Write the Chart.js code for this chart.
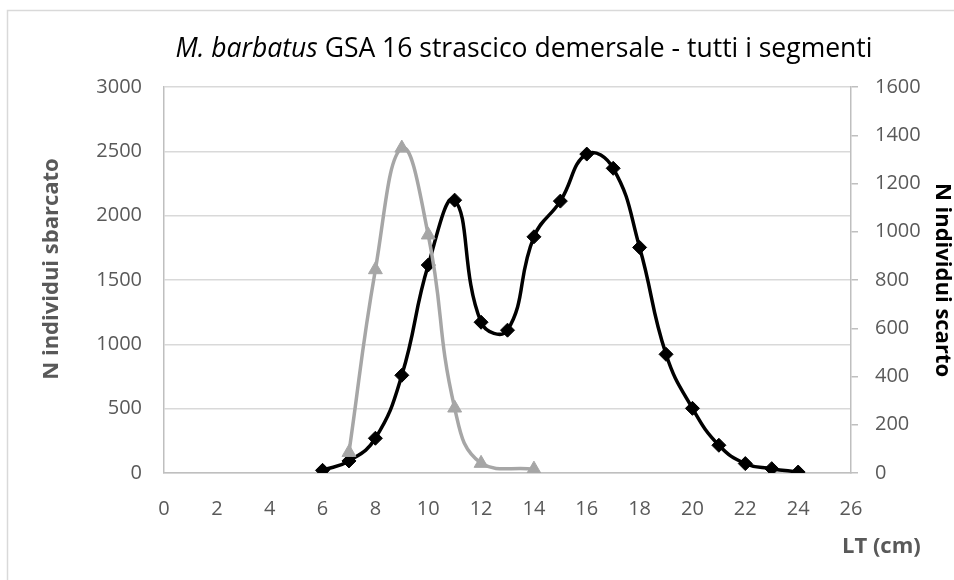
<!DOCTYPE html>
<html>
<head>
<meta charset="utf-8">
<script src="https://cdn.jsdelivr.net/npm/chart.js@4.4.0/dist/chart.umd.min.js"></script>
<style>
  html, body { margin: 0; padding: 0; background: #fff; }
  canvas { display: block; }
</style>
</head>
<body>
<canvas id="lengthChart" width="954" height="580"></canvas>
<script>
// length classes (cm) and number of individuals
const ltSbarcato = [7, 8, 9, 10, 11, 12, 14];
const nSbarcato = [160, 1580, 2525, 1850, 505, 75, 30];

const ltScarto = [6, 7, 8, 9, 10, 11, 12, 13, 14, 15, 16, 17, 18, 19, 20, 21, 22, 23, 24];
const nScarto = [11, 50, 144, 405, 862, 1131, 625, 592, 979, 1127, 1322, 1263, 935, 492, 268, 115, 39, 18, 4];

const titleItalic = 'M. barbatus';
const titleRest = ' GSA 16 strascico demersale - tutti i segmenti';
const leftTitle = 'N individui sbarcato';
const rightTitle = 'N individui scarto';
const xTitle = 'LT (cm)';

const FONT = "'Open Sans', 'DejaVu Sans', sans-serif";
const tickGray = '#595959';

function toPoints(xs, ys) {
    return xs.map((x, i) => ({ x: x, y: ys[i] }));
}

function plain(v) { return String(v); } // no thousand separators

// white page + light frame, like the excel chart area
const frame = {
    id: 'frame',
    beforeDraw(chart) {
        const ctx = chart.ctx;
        ctx.save();
        ctx.fillStyle = '#fff';
        ctx.fillRect(0, 0, chart.width, chart.height);
        ctx.strokeStyle = '#d9d9d9';
        ctx.lineWidth = 1.5;
        ctx.strokeRect(7.5, 10.5, 1000, 700);
        ctx.restore();
    }
};

// title (part italic) and axis titles
const labels = {
    id: 'labels',
    afterDraw(chart) {
        const ctx = chart.ctx;
        ctx.save();
        ctx.textBaseline = 'alphabetic';

        // chart title
        ctx.fillStyle = '#000';
        ctx.font = 'italic 26.5px ' + FONT;
        const w1 = ctx.measureText(titleItalic).width;
        ctx.font = '26.5px ' + FONT;
        const w2 = ctx.measureText(titleRest).width;
        let x = 524 - (w1 + w2) / 2;
        ctx.textAlign = 'left';
        ctx.font = 'italic 26.5px ' + FONT;
        ctx.fillText(titleItalic, x, 57);
        ctx.font = '26.5px ' + FONT;
        ctx.fillText(titleRest, x + w1, 57);

        // left axis title
        ctx.textAlign = 'center';
        ctx.textBaseline = 'middle';
        ctx.font = 'bold 22px ' + FONT;
        ctx.fillStyle = tickGray;
        ctx.save();
        ctx.translate(52, 269);
        ctx.rotate(-Math.PI / 2);
        ctx.fillText(leftTitle, 0, 0);
        ctx.restore();

        // right axis title
        ctx.fillStyle = '#000';
        ctx.save();
        ctx.translate(942, 280);
        ctx.rotate(Math.PI / 2);
        ctx.fillText(rightTitle, 0, 0);
        ctx.restore();

        // x axis title
        ctx.fillStyle = tickGray;
        ctx.textAlign = 'left';
        ctx.fillText(xTitle, 842, 547);
        ctx.restore();
    }
};

new Chart(document.getElementById('lengthChart'), {
    type: 'line',
    data: {
        datasets: [{
            label: leftTitle,
            data: toPoints(ltSbarcato, nSbarcato),
            yAxisID: 'y',
            borderColor: '#a6a6a6',
            backgroundColor: '#a6a6a6',
            borderWidth: 3.5,
            tension: 0.45,
            pointStyle: 'triangle',
            pointRadius: 8,
            pointBorderWidth: 1,
            pointBorderColor: '#a6a6a6',
            fill: false
        }, {
            label: rightTitle,
            data: toPoints(ltScarto, nScarto),
            yAxisID: 'y2',
            borderColor: '#000',
            backgroundColor: '#000',
            borderWidth: 3.5,
            tension: 0.45,
            pointStyle: 'rectRot',
            pointRadius: 7,
            pointBorderWidth: 1,
            pointBorderColor: '#000',
            fill: false
        }]
    },
    options: {
        responsive: false,
        animation: false,
        layout: { padding: { top: 87, left: 0, right: 0, bottom: 0 } },
        plugins: {
            legend: { display: false },
            title: { display: false },
            tooltip: { enabled: false }
        },
        scales: {
            x: {
                type: 'linear',
                min: 0,
                max: 26,
                ticks: { stepSize: 2, padding: 16, color: tickGray, font: { family: FONT, size: 20 }, callback: plain },
                grid: { display: false },
                border: { display: true, color: '#bfbfbf', width: 1.5 },
                afterFit(scale) { scale.height = 107; }
            },
            y: {
                position: 'left',
                min: 0,
                max: 3000,
                ticks: { stepSize: 500, padding: 22, color: tickGray, font: { family: FONT, size: 20 }, callback: plain },
                grid: { color: '#d9d9d9', lineWidth: 1.5, drawTicks: false },
                border: { display: true, color: '#bfbfbf', width: 1.5 },
                afterFit(scale) { scale.width = 164; }
            },
            y2: {
                position: 'right',
                min: 0,
                max: 1600,
                ticks: { stepSize: 200, padding: 17, color: tickGray, font: { family: FONT, size: 20 }, callback: plain },
                grid: { drawOnChartArea: false, drawTicks: true, tickLength: 7, color: '#bfbfbf', lineWidth: 1.5 },
                border: { display: true, color: '#bfbfbf', width: 1.5 },
                afterFit(scale) { scale.width = 103; }
            }
        }
    },
    plugins: [frame, labels]
});
</script>
</body>
</html>
